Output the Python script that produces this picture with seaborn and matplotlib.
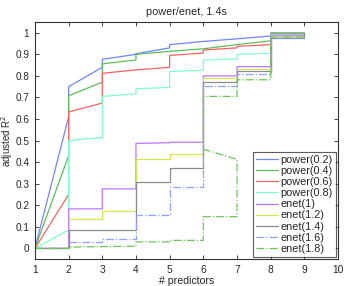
import matplotlib
matplotlib.use("Agg")
import matplotlib.pyplot as plt
import seaborn as sns

# x positions (number of predictors); repeated values give the vertical jumps
x_step = [1, 2, 2, 3, 3, 4, 4, 5, 5, 6, 6, 7, 7, 8, 8, 9]
x_enet18 = [1, 2, 2, 3, 3, 4, 4, 5, 5, 6, 6, 7, 7, 6, 6, 7, 7, 8, 8, 9]
x_enet14 = [1, 2, 2, 3, 3, 4, 4, 5, 5, 6, 6, 7, 7, 8, 8, 9, 9]

power02 = [0, 0.61, 0.75, 0.84, 0.877, 0.90, 0.903, 0.93, 0.945, 0.96, 0.96, 0.972, 0.972, 0.985, 0.995, 0.995]
power04 = [0, 0.43, 0.708, 0.771, 0.856, 0.874, 0.90, 0.914, 0.914, 0.926, 0.926, 0.945, 0.945, 0.963, 1.0, 1.0]
power06 = [0, 0.25, 0.633, 0.674, 0.812, 0.828, 0.828, 0.84, 0.895, 0.906, 0.92, 0.93, 0.937, 0.945, 0.993, 0.993]
power08 = [0, 0.085, 0.50, 0.515, 0.705, 0.717, 0.74, 0.747, 0.82, 0.827, 0.874, 0.879, 0.90, 0.905, 0.99, 0.99]
enet1 = [0, 0, 0.183, 0.183, 0.276, 0.276, 0.487, 0.49, 0.492, 0.492, 0.80, 0.80, 0.843, 0.843, 0.986, 0.986]
enet12 = [0, 0, 0.134, 0.134, 0.175, 0.175, 0.415, 0.415, 0.438, 0.438, 0.791, 0.791, 0.833, 0.833, 0.982, 0.982]
enet14 = [0, 0, 0.084, 0.084, 0.084, 0.084, 0.306, 0.306, 0.372, 0.372, 0.774, 0.774, 0.825, 0.825, 0.978, 0.978, 1.0]
enet16 = [0, 0, 0.029, 0.029, 0.045, 0.045, 0.155, 0.155, 0.283, 0.283, 0.753, 0.753, 0.809, 0.809, 0.974, 0.974]
enet18 = [0, 0, 0.006, 0.008, 0.008, 0.01, 0.03, 0.03, 0.037, 0.037, 0.147, 0.147, 0.413, 0.46,
          0.705, 0.705, 0.782, 0.782, 0.98, 0.98]

labels = ["power(0.2)", "power(0.4)", "power(0.6)", "power(0.8)",
          "enet(1)", "enet(1.2)", "enet(1.4)", "enet(1.6)", "enet(1.8)"]

series = [
    (x_step, power02, "#6f86ff", "-"),
    (x_step, power04, "#5cbd5c", "-"),
    (x_step, power06, "#ff6060", "-"),
    (x_step, power08, "#7dffc8", "-"),
    (x_step, enet1, "#bb77ff", "-"),
    (x_step, enet12, "#d6e650", "-"),
    (x_enet14, enet14, "#8c8c8c", "-"),
    (x_step, enet16, "#8fa2ff", "-."),
    (x_enet18, enet18, "#6cc85a", "-."),
]

sns.set_style("white")
plt.rcParams["font.family"] = ["Liberation Sans", "DejaVu Sans"]

fig = plt.figure(figsize=(3.46, 2.86), dpi=100)
ax = fig.add_axes([0.101, 0.094, 0.876, 0.829])

for (xs, ys, col, ls), lab in zip(series, labels):
    sns.lineplot(x=xs, y=ys, sort=False, estimator=None, color=col,
                 linestyle=ls, linewidth=0.9, label=lab, ax=ax)

ax.set_xlim(1, 10)
ax.set_ylim(-0.05, 1.05)
ax.set_xticks(range(1, 11))
ax.set_yticks([i / 10 for i in range(11)])
ax.set_yticklabels(["0", "0.1", "0.2", "0.3", "0.4", "0.5", "0.6", "0.7", "0.8", "0.9", "1"])
ax.tick_params(direction="in", length=3, width=0.6, labelsize=7.4, top=True, right=True,
               bottom=True, left=True)
ax.tick_params(axis="y", pad=4, labelsize=7.2)
ax.tick_params(axis="x", pad=4)
for sp in ax.spines.values():
    sp.set_color("#333333")
    sp.set_linewidth(0.8)

ax.set_title("power/enet, 1.4s", fontsize=7.8, pad=5)
ax.set_xlabel("# predictors", fontsize=7.6, labelpad=1)
ax.set_ylabel("adjusted R$^2$", fontsize=7.0)
ax.yaxis.set_label_coords(-0.067, 0.5)

leg = ax.legend(loc="lower right", fontsize=7.8, frameon=True, fancybox=False,
                edgecolor="#333333", handlelength=2.0, handletextpad=0.25,
                labelspacing=0.1, borderpad=0.3, borderaxespad=0.2)
leg.get_frame().set_linewidth(0.8)

fig.savefig("out.png", dpi=100)
